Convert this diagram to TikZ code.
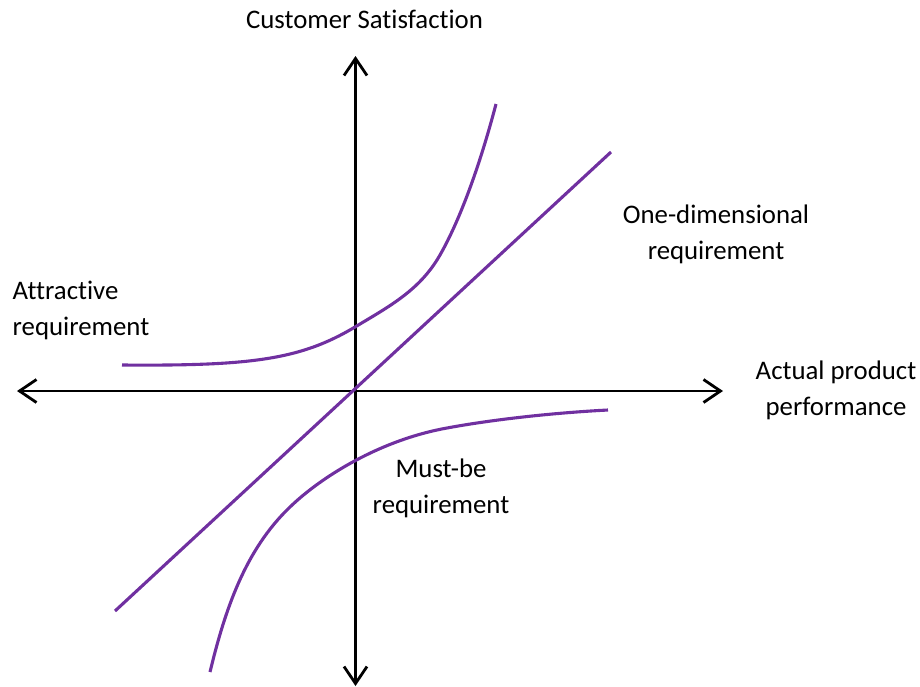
\documentclass[tikz,border=0pt]{standalone}
\usepackage{fontspec}
\setmainfont{Carlito}[Ligatures={NoCommon}]
\usetikzlibrary{arrows.meta}
\definecolor{kpurple}{HTML}{7030A0}
\begin{document}
\begin{tikzpicture}[x=1pt,y=-1pt,
  axis/.style={line width=2.8pt,{Straight Barb[length=17pt,width=23pt,line width=2.8pt]}-{Straight Barb[length=17pt,width=23pt,line width=2.8pt]}},
  curve/.style={kpurple,line width=3.1pt},
  lbl/.style={font=\fontsize{26.8}{36}\selectfont,inner sep=0pt,anchor=base}]
\useasboundingbox (0,0) rectangle (920,686);
\coordinate (xl) at (17,391);
\coordinate (xr) at (723,391);
\coordinate (yt) at (355.5,56);
\coordinate (yb) at (355.5,686);
\draw[axis] (xl) -- (xr);
\draw[axis] (yb) -- (yt);
\coordinate (ls) at (115,611);
\coordinate (le) at (611,152);
\draw[curve] (ls) -- (le);
\draw[curve] (122,365) .. controls (250,366) and (300,360) .. (355,327)
  .. controls (390,306) and (420,290) .. (440,255)
  .. controls (460,220) and (480,165) .. (496,104);
\draw[curve] (210,672) .. controls (225,610) and (245,550) .. (290,507)
  .. controls (321,477) and (380,440) .. (447,428)
  .. controls (490,420) and (550,413) .. (608,410);
\node[lbl] (cs) at (364.5,28) {Customer Satisfaction};
\node[lbl,align=center] (od) at (716,259) {One-dimensional\\requirement};
\node[lbl,align=left,anchor=base west] (at) at (12.5,335) {Attractive\\requirement};
\node[lbl,align=center] (ap) at (836,415) {Actual product\\performance};
\node[lbl,align=center] (mb) at (441,513) {Must-be\\requirement};
\end{tikzpicture}
\end{document}
